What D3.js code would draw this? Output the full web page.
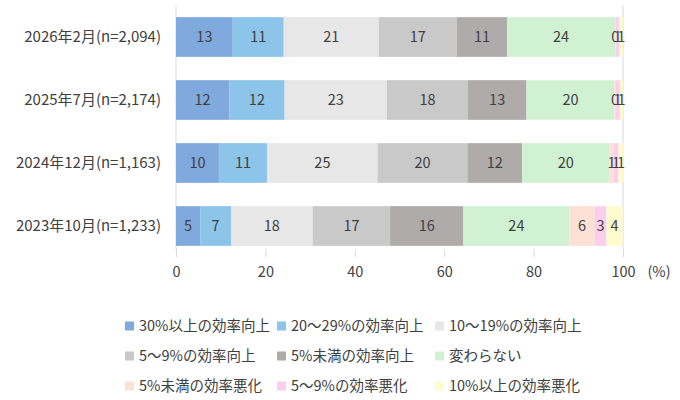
<!DOCTYPE html>
<html>
<head>
<meta charset="utf-8">
<script src="https://cdn.jsdelivr.net/npm/d3@7"></script>
<style>
  body { margin: 0; background: #fff; }
  svg text { font-family: "Noto Sans CJK JP", "Noto Sans", sans-serif; fill: #404040; }
</style>
</head>
<body>
<div id="chart"></div>
<script>
// categories (top to bottom)
var categories = ["2026年2月(n=2,094)", "2025年7月(n=2,174)", "2024年12月(n=1,163)", "2023年10月(n=1,233)"];

// series names
var seriesNames = ["30%以上の効率向上", "20～29%の効率向上", "10～19%の効率向上",
                   "5～9%の効率向上", "5%未満の効率向上", "変わらない",
                   "5%未満の効率悪化", "5～9%の効率悪化", "10%以上の効率悪化"];

// values (%) per series, in category order
var up30   = [12.7, 11.9, 9.6, 5.4];
var up20   = [11.4, 12.4, 10.8, 6.9];
var up10   = [21.3, 22.9, 24.7, 18.3];
var up5    = [17.4, 18.1, 20.1, 17.3];
var upLow  = [11.3, 13.1, 12.2, 16.4];
var same   = [24.1, 19.7, 19.6, 23.7];
var down0  = [0.2, 0.2, 0.9, 5.7];
var down5  = [0.8, 1.0, 1.1, 2.6];
var down10 = [0.8, 0.7, 1.1, 3.6];

var xTicks = [0, 20, 40, 60, 80, 100];

var colors = ["#80a9dd", "#8cc5e9", "#e7e7e7", "#c9c9c9", "#afabab",
              "#d0f1d2", "#fde1d5", "#fbcdee", "#fefccd"];

var seriesValues = [up30, up20, up10, up5, upLow, same, down0, down5, down10];

// build table for d3.stack
var table = categories.map(function(c, i) {
  var row = {cat: c};
  seriesNames.forEach(function(s, j) { row[s] = seriesValues[j][i]; });
  return row;
});

var width = 680, height = 400;
var left = 176, right = 623;

var svg = d3.select("#chart").append("svg")
    .attr("width", width)
    .attr("height", height);

var x = d3.scaleLinear().domain([0, 100]).range([left, right]);
var y = d3.scaleBand().domain(categories).range([5.5, 257.5]).paddingInner(0.37).paddingOuter(0.185);

var stacked = d3.stack().keys(seriesNames)(table);

// border lines at 0 and 100
svg.selectAll(".edge")
    .data([0, 100])
  .enter().append("line")
    .attr("x1", function(d) { return x(d); })
    .attr("x2", function(d) { return x(d); })
    .attr("y1", 5)
    .attr("y2", 249)
    .attr("stroke", "#d9d9d9");

// bars
var groups = svg.selectAll(".series")
    .data(stacked)
  .enter().append("g")
    .attr("fill", function(d, i) { return colors[i]; });

groups.selectAll("rect")
    .data(function(d) { return d; })
  .enter().append("rect")
    .attr("x", function(d) { return x(d[0]); })
    .attr("y", function(d) { return y(d.data.cat); })
    .attr("width", function(d) { return x(d[1]) - x(d[0]); })
    .attr("height", y.bandwidth());

// value labels
groups.selectAll("text")
    .data(function(d) { return d; })
  .enter().append("text")
    .attr("x", function(d) { return (x(d[0]) + x(d[1])) / 2; })
    .attr("y", function(d) { return y(d.data.cat) + y.bandwidth() / 2; })
    .attr("dy", "0.36em")
    .attr("text-anchor", "middle")
    .style("font-size", "14.5px")
    .text(function(d) { return Math.round(d[1] - d[0]); });

// category axis
var yAxis = svg.append("g")
    .attr("transform", "translate(" + (left - 15) + ",0)")
    .call(d3.axisLeft(y).tickSize(0).tickPadding(0));
yAxis.select(".domain").remove();
yAxis.selectAll("text").style("font-size", "15px").style("fill", "#404040");

// value axis
var xAxis = svg.append("g")
    .attr("transform", "translate(0,249)")
    .call(d3.axisBottom(x).tickValues(xTicks).tickSize(8).tickPadding(10));
xAxis.select(".domain").remove();
xAxis.selectAll("line").attr("stroke", "#d9d9d9");
xAxis.selectAll("text").style("font-size", "14.5px").style("fill", "#404040");

svg.append("text")
    .attr("x", 659)
    .attr("y", 277)
    .attr("text-anchor", "middle")
    .style("font-size", "14.5px")
    .text("(%)");

// legend
var legendCols = [125, 277, 435];
var legendRows = [326, 356, 386];
var legend = svg.selectAll(".legend")
    .data(seriesNames)
  .enter().append("g")
    .attr("transform", function(d, i) {
      return "translate(" + legendCols[i % 3] + "," + legendRows[Math.floor(i / 3)] + ")";
    });

legend.append("rect")
    .attr("x", 0)
    .attr("y", -4.5)
    .attr("width", 9)
    .attr("height", 9)
    .attr("fill", function(d, i) { return colors[i]; });

legend.append("text")
    .attr("x", 14)
    .attr("dy", "0.36em")
    .style("font-size", "14.5px")
    .text(function(d) { return d; });
</script>
</body>
</html>
